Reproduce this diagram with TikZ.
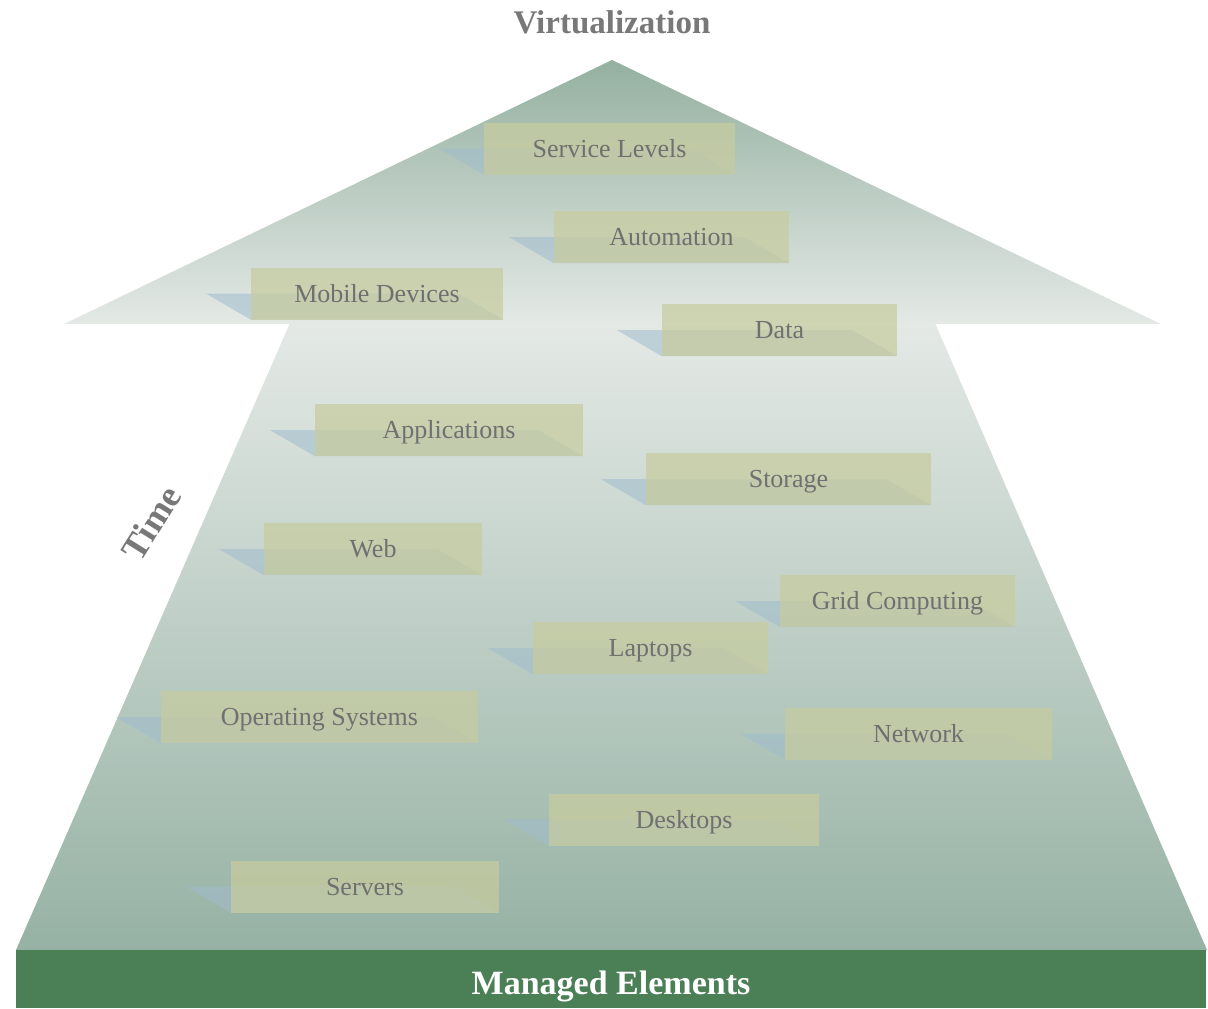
\documentclass[tikz,border=0pt]{standalone}
\usepackage{fontspec}
\setmainfont{Liberation Serif}
\usetikzlibrary{calc}
\pgfdeclarelayer{bg}
\pgfdeclarelayer{shad}
\pgfsetlayers{bg,shad,main}
\definecolor{arrdark}{RGB}{148,176,160}
\definecolor{arrlight}{RGB}{228,233,230}
\definecolor{arrbottom}{RGB}{150,178,164}
\definecolor{boxfill}{RGB}{199,204,158}
\definecolor{shadcol}{RGB}{160,188,205}
\definecolor{labelgray}{RGB}{112,112,112}
\definecolor{titlegray}{RGB}{120,120,120}
\definecolor{bargreen}{RGB}{75,127,85}
\newcommand\lbl[5]{%
  \node[lbox, minimum width=#4pt] (#1) at (#2,#3) {#5};
  \begin{pgfonlayer}{shad}
    \fill[shadcol, fill opacity=0.55] ($(#1.west)+(-45,0)$) -- ($(#1.east)+(-45,0)$) -- (#1.south east) -- (#1.south west) -- cycle;
  \end{pgfonlayer}}
\begin{document}
\begin{tikzpicture}[x=1pt,y=-1pt,
  lbox/.style={fill=boxfill, fill opacity=0.72, text opacity=1, text=labelgray, inner sep=0pt,
    font=\fontsize{26}{30}\selectfont, minimum height=52pt, text height=19pt, text depth=2pt},
  title/.style={text=titlegray, font=\bfseries\fontsize{33}{38}\selectfont, inner sep=0pt}]
\useasboundingbox (0,0) rectangle (1208,1009);
\begin{pgfonlayer}{bg}
  \shade[top color=arrdark, bottom color=arrlight] (612,60) -- (1161,324) -- (64,324) -- cycle;
  \shade[top color=arrlight, bottom color=arrbottom] (290,323) -- (935,323) -- (1207,950) -- (16,950) -- cycle;
\end{pgfonlayer}
\node[fill=bargreen, minimum width=1190pt, minimum height=58pt, inner sep=0pt, text=white,
  text height=32pt, text depth=2pt,
  font=\bfseries\fontsize{34}{38}\selectfont] (me) at (611,979) {Managed Elements};
\node[title] (vt) at (612,22) {Virtualization};
\node[title, font=\bfseries\fontsize{36}{40}\selectfont, rotate=58] (tm) at (151,523) {Time};
\lbl{sl}{609.5}{148.5}{251}{Service Levels}
\lbl{au}{671.5}{237}{235}{Automation}
\lbl{md}{377}{293.5}{252}{Mobile Devices}
\lbl{da}{779.5}{330}{235}{Data}
\lbl{ap}{449}{430}{268}{Applications}
\lbl{st}{788.5}{479}{285}{Storage}
\lbl{we}{373}{549}{218}{Web}
\lbl{gc}{897.5}{601}{235}{Grid Computing}
\lbl{la}{650.5}{648}{235}{Laptops}
\lbl{os}{319.5}{717}{317}{Operating Systems}
\lbl{ne}{918.5}{733.5}{267}{Network}
\lbl{de}{684}{819.5}{270}{Desktops}
\lbl{se}{365}{886.5}{268}{Servers}
\end{tikzpicture}
\end{document}
